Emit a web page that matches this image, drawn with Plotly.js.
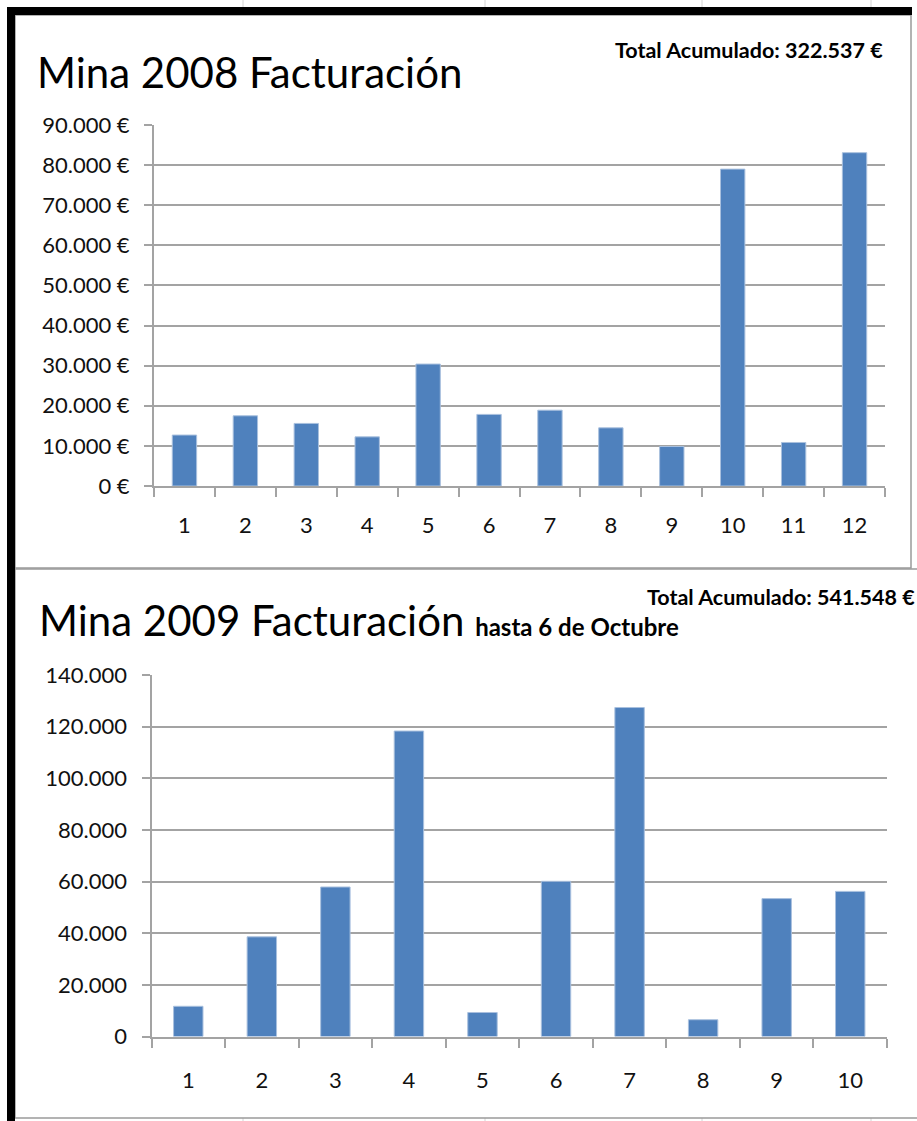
<!DOCTYPE html>
<html>
<head>
<meta charset="utf-8">
<script src="https://cdn.plot.ly/plotly-3.0.1.min.js"></script>
<style>
html,body{margin:0;padding:0;background:#fff;}
#chart{width:917px;height:1121px;}
</style>
</head>
<body>
<div id="chart"></div>
<script>
// ---- data ----
const months2008 = ['1','2','3','4','5','6','7','8','9','10','11','12'];
const fact2008 = [12700, 17500, 15600, 12250, 30400, 17850, 18900, 14500, 9850, 79000, 10850, 83100];
const months2009 = ['1','2','3','4','5','6','7','8','9','10'];
const fact2009 = [11700, 38600, 57900, 118300, 9300, 60100, 127400, 6500, 53400, 56200];
const title2008 = 'Mina 2008 Facturación';
const total2008 = 'Total Acumulado: 322.537 €';
const title2009 = 'Mina 2009 Facturación';
const subtitle2009 = 'hasta 6 de Octubre';
const total2009 = 'Total Acumulado: 541.548 €';

// ---- layout helpers ----
const W = 917, H = 1121;
const px = x => x / W;
const py = y => 1 - y / H;
const FONT = 'Lato, "Open Sans", sans-serif';
const GRID = '#a3a3a3';
const BAR = '#4f81bd';
const TXT = '#111111';

const traces = [
  {type:'bar', x: months2008, y: fact2008, xaxis:'x', yaxis:'y',
   marker:{color:BAR, line:{color:'#a9c0de', width:1}}, hoverinfo:'skip'},
  {type:'bar', x: months2009, y: fact2009, xaxis:'x2', yaxis:'y2',
   marker:{color:BAR, line:{color:'#a9c0de', width:1}}, hoverinfo:'skip'}
];

const catAxis = (domain, anchor, standoff) => ({
  type:'category', domain: domain, anchor: anchor,
  showline:true, linecolor:GRID, linewidth:2,
  ticks:'outside', tickson:'boundaries', ticklen:9, tickcolor:GRID, tickwidth:2,
  showgrid:false, zeroline:false,
  tickfont:{family:FONT, size:22, color:TXT},
  ticklabelstandoff: standoff, fixedrange:true
});
const valAxis = (domain, anchor, range, dtick, suffix) => ({
  domain: domain, anchor: anchor, range: range, dtick: dtick, tick0: 0,
  showline:true, linecolor:GRID, linewidth:2,
  ticks:'outside', ticklen:8, tickcolor:GRID, tickwidth:2,
  showgrid:true, gridcolor:GRID, gridwidth:2, zeroline:false,
  tickformat:',.0f', ticksuffix: suffix,
  tickfont:{family:FONT, size:22, color:TXT},
  ticklabelstandoff: 10, fixedrange:true
});

const rect = (x0,y0,x1,y1,fill,line,lw) => ({
  type:'rect', xref:'paper', yref:'paper', layer:'below',
  x0:px(x0), x1:px(x1), y0:py(y1), y1:py(y0),
  fillcolor: fill, line:{color: line || 'rgba(0,0,0,0)', width: lw || 0}
});
const vline = (x,y0,y1,c) => ({type:'line', xref:'paper', yref:'paper', layer:'below',
  x0:px(x), x1:px(x), y0:py(y0), y1:py(y1), line:{color:c, width:1}});

const shapes = [
  // excel column lines above / below the charts
  vline(243,0,7,'#d4d4d4'), vline(485,0,7,'#d4d4d4'), vline(702,0,7,'#d4d4d4'), vline(871,0,7,'#d4d4d4'),
  vline(243,1118,1121,'#d4d4d4'), vline(485,1118,1121,'#d4d4d4'), vline(702,1118,1121,'#d4d4d4'), vline(871,1118,1121,'#d4d4d4'),
  // chart frames
  rect(15,15,911,568,'#ffffff','#9a9a9a',1.5),
  rect(15,569,940,1118,'#ffffff','#9a9a9a',1.5),
  // black frame (left and top)
  rect(7,7,912,15,'#000000'),
  rect(7,7,15,1121,'#000000')
];

const annotations = [
  {xref:'paper', yref:'paper', x:px(35), y:py(72), xanchor:'left', yanchor:'middle',
   text: title2008, showarrow:false, font:{family:FONT, size:42, color:'#000'}},
  {xref:'paper', yref:'paper', x:px(885), y:py(50), xanchor:'right', yanchor:'middle',
   text: '<b>' + total2008 + '</b>', showarrow:false, font:{family:FONT, size:21.5, color:'#000'}},
  {xref:'paper', yref:'paper', x:px(37), y:py(620), xanchor:'left', yanchor:'middle',
   text: title2009 + ' <b><span style="font-size:24px">' + subtitle2009 + '</span></b>',
   showarrow:false, font:{family:FONT, size:42, color:'#000'}},
  {xref:'paper', yref:'paper', x:px(645), y:py(597), xanchor:'left', yanchor:'middle',
   text: '<b>' + total2009 + '</b>', showarrow:false, font:{family:FONT, size:21.5, color:'#000'}}
];

const layout = {
  width: W, height: H,
  margin:{l:0, r:0, t:0, b:0},
  paper_bgcolor:'#ffffff', plot_bgcolor:'rgba(0,0,0,0)',
  separators: ',.',
  showlegend:false,
  bargap: 0.6,
  xaxis: catAxis([px(154), px(885)], 'y', 19),
  yaxis: valAxis([py(486), py(125)], 'x', [0, 90000], 10000, ' €'),
  xaxis2: catAxis([px(151.5), px(887)], 'y2', 23),
  yaxis2: valAxis([py(1036.5), py(675)], 'x2', [0, 140000], 20000, ''),
  shapes: shapes,
  annotations: annotations,
  hovermode: false
};

Plotly.newPlot('chart', traces, layout, {staticPlot:true, displayModeBar:false});
</script>
</body>
</html>
